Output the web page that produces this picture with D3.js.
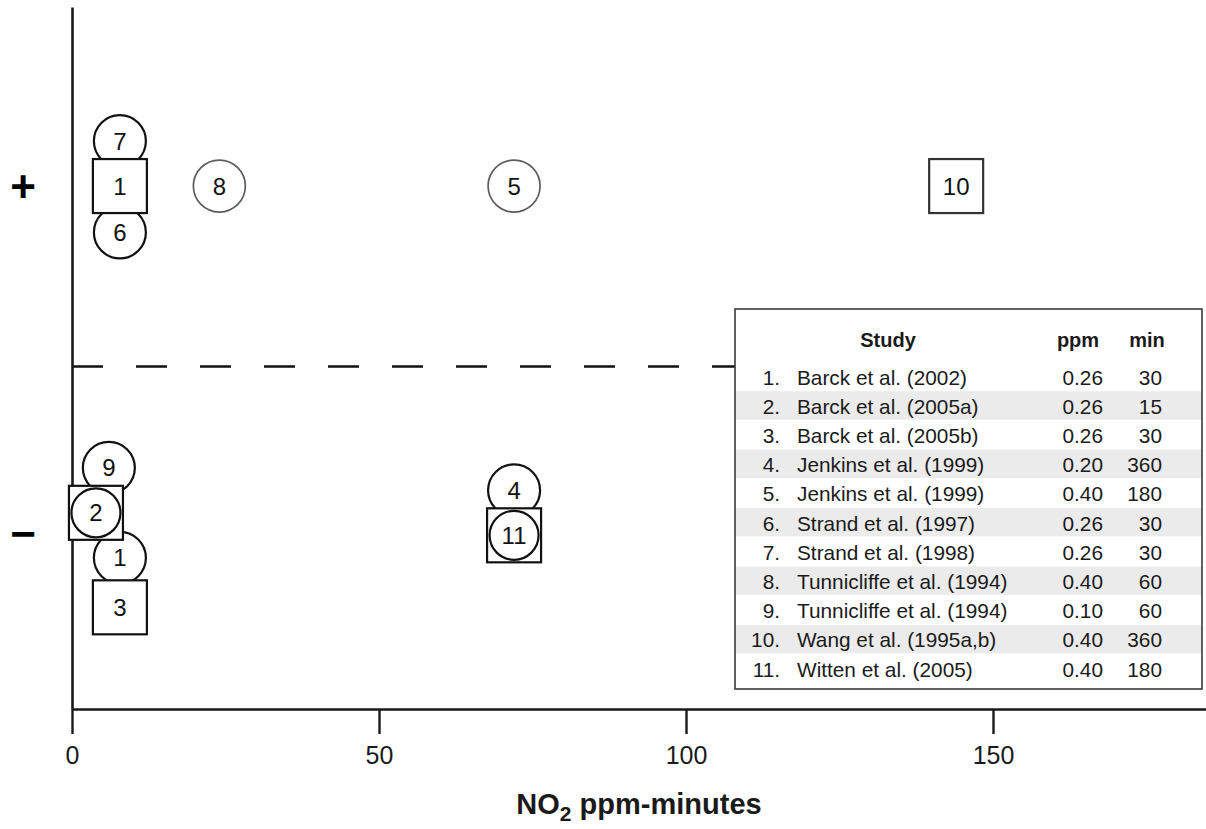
<!DOCTYPE html>
<html>
<head>
<meta charset="utf-8">
<script src="https://cdn.jsdelivr.net/npm/d3@7"></script>
<style>
  html, body { margin: 0; padding: 0; background: #fff; }
  svg { display: block; font-family: "Liberation Sans", Arial, sans-serif; }
</style>
</head>
<body>
<svg id="chart" width="1206" height="829"></svg>
<script>
// Studies listed in the key
const studyNumber = [1, 2, 3, 4, 5, 6, 7, 8, 9, 10, 11];
const studyName = [
  "Barck et al. (2002)",
  "Barck et al. (2005a)",
  "Barck et al. (2005b)",
  "Jenkins et al. (1999)",
  "Jenkins et al. (1999)",
  "Strand et al. (1997)",
  "Strand et al. (1998)",
  "Tunnicliffe et al. (1994)",
  "Tunnicliffe et al. (1994)",
  "Wang et al. (1995a,b)",
  "Witten et al. (2005)"
];
const studyPpm = ["0.26", "0.26", "0.26", "0.20", "0.40", "0.26", "0.26", "0.40", "0.10", "0.40", "0.40"];
const studyMin = [30, 15, 30, 360, 180, 30, 30, 60, 60, 360, 180];

// Plotted outcomes: study number, effect (1 = "+", 0 = "−"), marker shape,
// and vertical stacking slot used to separate overlapping markers
const markerStudy = [7, 1, 6, 8, 5, 10, 9, 2, 1, 3, 4, 11];
const markerEffect = [1, 1, 1, 1, 1, 1, 0, 0, 0, 0, 0, 0];
const markerShape = ["circle", "square", "circle", "circle", "circle", "square",
                     "circle", "both", "circle", "square", "circle", "both"];
const markerStack = [1, 0, -1.03, 0, 0, 0, 1.45, 0.45, -0.55, -1.65, 0.95, -0.05];

// Axis ticks
const xTicks = [0, 50, 100, 150];
const effectTicks = [1, 0];
const effectLabels = ["+", "\u2212"];
const dividerLevel = 0.48;

const svg = d3.select("#chart");
const W = 1206, H = 829;

const x = d3.scaleLinear().domain([0, 185]).range([72, 72 + 185 * 6.14]);
const y = d3.scaleLinear().domain([-0.507, 1.516]).range([709, 7]);
const stackStep = 45;   // px between stacked markers
const R = 26;           // circle radius
const S = 54;           // square side

const markers = markerStudy.map((s, i) => ({
  label: s,
  dose: +studyPpm[s - 1] * studyMin[s - 1],   // ppm × minutes
  effect: markerEffect[i],
  shape: markerShape[i],
  stack: markerStack[i]
}));
const cx = d => x(d.dose);
const cy = d => y(d.effect) - d.stack * stackStep;
const isLight = d => (d.label === 8 || d.label === 5) && d.effect === 1;
const strokeOf = d => isLight(d) ? "#5c5c5c" : (d.label === 10 ? "#333" : "#111");
const widthOf = d => isLight(d) ? 1.7 : 2.2;

// Dashed divider between positive and negative outcomes
svg.append("line")
  .attr("x1", x(0)).attr("x2", 735)
  .attr("y1", y(dividerLevel)).attr("y2", y(dividerLevel))
  .attr("stroke", "#111").attr("stroke-width", 2.6)
  .attr("stroke-dasharray", "31,33");

// X axis
const xAxis = svg.append("g")
  .attr("transform", `translate(0,${y.range()[0]})`)
  .call(d3.axisBottom(x).tickValues(xTicks).tickSize(25).tickSizeOuter(0).tickPadding(12));
xAxis.select(".domain").attr("stroke", "#1a1a1a").attr("stroke-width", 2.6);
xAxis.selectAll(".tick line").attr("stroke", "#1a1a1a").attr("stroke-width", 2.4);
xAxis.selectAll(".tick text")
  .attr("fill", "#1a1a1a")
  .style("font-size", "25px")
  .style("font-family", "'Liberation Sans', Arial, sans-serif");

// Y axis with +/− outcome labels
const yAxis = svg.append("g")
  .attr("transform", `translate(${x(0)},0)`)
  .call(d3.axisLeft(y).tickValues(effectTicks).tickSize(0).tickSizeOuter(0)
    .tickFormat((d, i) => effectLabels[i]));
yAxis.select(".domain").attr("stroke", "#1a1a1a").attr("stroke-width", 2.6);
yAxis.selectAll(".tick text")
  .attr("x", -49)
  .attr("text-anchor", "middle")
  .attr("dy", "0.34em")
  .attr("fill", "#000")
  .style("font-weight", "bold")
  .style("font-size", "44px")
  .style("font-family", "'Liberation Sans', Arial, sans-serif");

// X axis title
const title = svg.append("text")
  .attr("x", (x(0) + W) / 2)
  .attr("y", 814)
  .attr("text-anchor", "middle")
  .attr("fill", "#1a1a1a")
  .style("font-weight", "bold")
  .style("font-size", "29px");
title.append("tspan").text("NO");
title.append("tspan").attr("dy", 7).style("font-size", "21px").text("2");
title.append("tspan").attr("dy", -7).text(" ppm-minutes");

// Markers: plain circles first, then squares (which cover circles beneath them)
const order = markers.filter(d => d.shape === "circle")
  .concat(markers.filter(d => d.shape !== "circle"));
const mg = svg.append("g");
const m = mg.selectAll("g.marker").data(order).join("g").attr("class", "marker");
m.filter(d => d.shape !== "circle").append("rect")
  .attr("x", d => cx(d) - S / 2).attr("y", d => cy(d) - S / 2)
  .attr("width", S).attr("height", S)
  .attr("fill", "#fff").attr("stroke", strokeOf).attr("stroke-width", widthOf);
m.filter(d => d.shape !== "square").append("circle")
  .attr("cx", cx).attr("cy", cy).attr("r", d => d.shape === "both" ? R - 1.5 : R)
  .attr("fill", "#fff").attr("stroke", strokeOf).attr("stroke-width", widthOf);
m.append("text")
  .attr("x", cx).attr("y", cy)
  .attr("dy", "0.36em")
  .attr("text-anchor", "middle")
  .attr("fill", "#111")
  .style("font-size", "24px")
  .text(d => d.label);

// Key table
const L = { x: 735, y: 309, w: 467, h: 380 };
const key = svg.append("g").attr("transform", `translate(${L.x},${L.y})`);
key.append("rect").attr("width", L.w).attr("height", L.h).attr("fill", "#fff");
const rowY = d3.scaleLinear().domain([0, 10]).range([68, 360]);
key.selectAll("rect.band").data(studyNumber.filter(n => n % 2 === 0)).join("rect")
  .attr("class", "band")
  .attr("x", 0).attr("width", L.w)
  .attr("y", n => rowY(n - 1) - 15).attr("height", 28.5)
  .attr("fill", "#ebebeb");
key.append("rect").attr("width", L.w).attr("height", L.h)
  .attr("fill", "none").attr("stroke", "#3a3a3a").attr("stroke-width", 1.6);

const head = key.append("g").style("font-weight", "bold").style("font-size", "20px").attr("fill", "#1a1a1a");
head.append("text").attr("x", 153).attr("y", 31).attr("dy", "0.36em").attr("text-anchor", "middle").text("Study");
head.append("text").attr("x", 343).attr("y", 31).attr("dy", "0.36em").attr("text-anchor", "middle").text("ppm");
head.append("text").attr("x", 412).attr("y", 31).attr("dy", "0.36em").attr("text-anchor", "middle").text("min");

const rows = key.selectAll("g.row").data(studyNumber).join("g")
  .attr("class", "row")
  .attr("transform", (n, i) => `translate(0,${rowY(i)})`)
  .style("font-size", "20.8px")
  .attr("fill", "#1a1a1a");
rows.append("text").attr("x", 45).attr("dy", "0.36em").attr("text-anchor", "end").text(n => n + ".");
rows.append("text").attr("x", 62).attr("dy", "0.36em").text((n, i) => studyName[i]);
rows.append("text").attr("x", 368).attr("dy", "0.36em").attr("text-anchor", "end").text((n, i) => studyPpm[i]);
rows.append("text").attr("x", 427).attr("dy", "0.36em").attr("text-anchor", "end").text((n, i) => studyMin[i]);
</script>
</body>
</html>
